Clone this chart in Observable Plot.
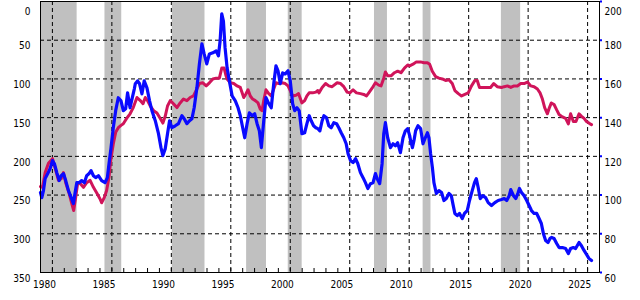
<!DOCTYPE html>
<html><head><meta charset="utf-8">
<script src="https://cdn.jsdelivr.net/npm/d3@7"></script>
<script src="https://cdn.jsdelivr.net/npm/@observablehq/plot@0.6"></script>
<style>
html,body{margin:0;padding:0;background:#fff;}
#chart svg{display:block;}
</style>
</head><body><div id="chart"></div>
<script>
// Shaded recession periods (decimal years)
const recessionStart = [1980.08, 1985.42, 1991.08, 1997.33, 2000.83, 2008.08, 2012.17, 2018.75];
const recessionEnd   = [1983.08, 1986.83, 1993.83, 1999.00, 2002.00, 2009.17, 2012.83, 2020.37];

// Red series: left axis (inverted, 0..350)
const redYears = [
  1980.0,1980.17,1980.39,1980.67,1981.01,1981.23,1981.51,1981.74,1981.93,1982.12,1982.41,1982.63,1982.79,1982.96,1983.13,1983.33,1983.61,1983.88,1984.17,1984.45,1984.72,1985.01,1985.14,1985.37,1985.56,1985.76,1985.93,1986.12,1986.32,1986.54,1986.77,1986.96,1987.24,1987.53,1987.80,
  1988.11,1988.39,1988.62,1988.81,1989.00,1989.23,1989.51,1989.79,1990.07,1990.29,1990.49,1990.68,1990.91,1991.18,1991.47,1991.74,1992.02,1992.31,1992.58,1992.86,1993.15,1993.36,1993.65,1993.93,1994.20,1994.49,1994.77,1995.04,1995.24,1995.44,1995.60,
  1995.69,1995.96,1996.25,1996.53,1996.80,1997.09,1997.28,1997.45,1997.64,1997.84,1998.06,1998.29,1998.48,1998.62,1998.77,1998.96,1999.19,1999.40,1999.61,1999.80,2000.03,2000.30,2000.58,2000.81,2001.00,2001.20,2001.48,2001.70,2001.98,2002.21,2002.40,2002.59,2002.88,2003.15,2003.32,
  2003.41,2003.68,2003.97,2004.24,2004.52,2004.94,2005.23,2005.50,2005.78,2006.01,2006.28,2006.57,2006.90,2007.18,2007.41,2007.60,2007.88,2008.16,2008.44,2008.63,2008.86,2009.00,2009.19,2009.47,2009.76,2010.03,2010.31,2010.60,2010.87,2011.04,
  2011.32,2011.60,2011.96,2012.24,2012.53,2012.72,2012.94,2013.22,2013.50,2013.78,2014.06,2014.34,2014.62,2014.84,2015.13,2015.40,2015.68,2015.96,2016.24,2016.52,2016.72,2016.91,2017.19,2017.56,2017.84,2018.11,2018.40,2018.76,
  2018.99,2019.26,2019.54,2019.82,2020.10,2020.38,2020.66,2020.94,2021.22,2021.50,2021.78,2022.00,2022.20,2022.39,2022.62,2022.79,2022.95,2023.18,2023.40,2023.60,2023.88,2024.15,2024.38,2024.57,2024.80,2025.02,2025.28,2025.47,2025.70,2025.91,2026.20,2026.33
];
const redValues = [
  239,240,221,209,203,215,231,229,221,234,248,261,270,253,234,235,240,234,231,240,247,255,260,253,244,227,202,184,169,163,160,158,151,145,137,
  124,128,132,124,128,135,141,144,151,157,148,135,128,132,137,131,126,128,124,122,113,106,105,109,105,100,99,99,86,86,96,
  100,105,106,109,111,124,119,114,122,126,128,131,139,141,128,114,119,122,113,105,106,105,106,109,115,122,121,119,131,128,122,118,118,117,115,
  118,111,106,109,110,105,106,110,117,118,114,118,119,120,122,118,112,105,108,109,99,91,96,96,92,90,92,86,82,83,
  81,78,78,79,79,81,90,97,99,100,102,101,106,115,119,122,120,118,109,102,102,111,111,111,111,106,110,111,
  110,109,111,109,109,106,106,104,109,110,113,118,126,137,145,137,131,133,140,146,149,151,158,145,155,155,145,148,151,155,158,159
];

// Blue series: right axis (60..200)
const blueYears = [
  1980.0,1980.11,1980.25,1980.39,1980.61,1980.81,1981.01,1981.17,1981.37,1981.57,1981.74,1981.93,1982.12,1982.35,1982.58,1982.77,1982.91,1983.05,1983.25,1983.46,1983.69,1983.88,1984.09,1984.25,1984.45,1984.64,1984.87,1985.14,1985.43,1985.62,1985.76,1985.93,1986.12,1986.32,1986.54,1986.77,1986.96,1987.16,1987.32,1987.53,1987.72,1987.89,
  1987.97,1988.16,1988.33,1988.53,1988.72,1988.95,1989.17,1989.37,1989.65,1989.92,1990.13,1990.29,1990.49,1990.68,1990.85,1991.05,1991.33,1991.60,1991.89,1992.08,1992.31,1992.53,1992.73,1992.92,1993.15,1993.36,1993.57,1993.76,1993.98,1994.20,1994.49,1994.77,1994.96,1995.10,1995.24,1995.38,1995.52,
  1995.69,1995.88,1996.11,1996.38,1996.61,1996.80,1997.00,1997.17,1997.37,1997.56,1997.79,1998.01,1998.21,1998.40,1998.57,1998.77,1998.96,1999.19,1999.40,1999.61,1999.80,1999.97,2000.16,2000.36,2000.58,2000.81,2001.00,2001.20,2001.37,2001.56,2001.75,2001.98,2002.21,2002.40,2002.59,2002.76,2002.96,2003.15,2003.32,
  2003.49,2003.68,2003.83,2004.05,2004.24,2004.44,2004.66,2004.89,2005.08,2005.28,2005.50,2005.70,2005.86,2006.07,2006.28,2006.49,2006.68,2006.90,2007.12,2007.32,2007.52,2007.74,2007.96,2008.16,2008.30,2008.52,2008.72,2008.86,2009.00,2009.19,2009.42,2009.64,2009.84,2010.03,2010.26,2010.48,2010.68,2010.87,2011.04,
  2011.12,2011.27,2011.40,2011.54,2011.74,2011.96,2012.16,2012.32,2012.53,2012.66,2012.80,2012.95,2013.08,2013.28,2013.50,2013.72,2013.92,2014.12,2014.34,2014.54,2014.67,2014.84,2015.04,2015.23,2015.46,2015.65,2015.88,2016.07,2016.30,2016.49,2016.64,2016.80,2016.97,2017.19,2017.42,2017.64,2017.92,2018.20,2018.48,2018.76,
  2018.99,2019.20,2019.41,2019.54,2019.77,2019.96,2020.16,2020.27,2020.44,2020.66,2020.88,2021.08,2021.28,2021.50,2021.72,2021.92,2022.11,2022.28,2022.47,2022.67,2022.84,2022.98,2023.18,2023.40,2023.60,2023.88,2024.15,2024.38,2024.57,2024.80,2024.99,2025.28,2025.47,2025.70,2025.91,2026.11,2026.33
];
const blueValues = [
  101.3,98.7,102.3,108.5,111.1,113.7,117.8,116.2,111.6,107.5,110,111.1,107.5,102.3,98.7,95.6,101.3,106.4,106.4,107.5,106.4,110,111.1,112.6,110,109,110,107.5,106.4,109,116.2,124.5,134.8,143.6,150.3,148.7,143.6,144.6,152.8,145.1,150.3,154.9,
  157.5,159,157.5,152.3,159,155.4,148.7,143.6,138.4,131.7,124.5,120.4,124,131.7,138.4,134.8,135.8,136.9,141,139.4,136.9,138.4,139.4,145.1,155.4,167.8,178.1,172.9,167.8,172.9,173.5,174.5,171.9,179.6,193.6,189.9,176,
  165.7,159,151.3,148.7,145.1,141,134.8,129.6,136.9,142.5,141,142,136.9,133.2,124.5,138.4,150.3,147.2,145.1,157.5,166.8,164.2,157.5,163.1,162.6,164.2,159,147.2,143.6,145.1,143.6,131.7,132.2,136.9,141,138.4,135.8,134.8,134.3,
  133.2,138.4,141,139.9,135.8,134.8,137.4,136.9,134.8,132.2,129.6,126.5,121.4,117.8,116.8,118.8,116.2,111.6,109,106.4,103.4,105.9,106.4,111.1,108.5,105.9,116.2,131.7,137.4,129.6,124.5,126.5,125.5,127,121.9,129.6,133.2,134.3,130.7,
  128.1,124.5,128.1,133.2,135.8,134.3,126.5,129.1,132.2,129.6,121.4,114.2,106.4,100.8,102.3,101.3,97.2,98.2,100.8,99.7,95.6,90.5,89.4,90.5,87.9,90.5,92,97.2,102.3,106.4,108.5,103.9,98.2,99.7,98.7,96.1,94.6,96.1,97.2,97.7,
  98.2,97.2,99.7,102.8,99.7,98.2,101.3,103.4,101.3,99.7,97.2,94.6,92,90.5,90.5,87.9,85.3,80.2,76.5,75.5,77.6,78.1,77.6,75,72.9,72.9,72.4,69.8,72.4,72.9,72.4,75.5,74,71.4,69.3,67.3,66.2
];

// Axis ticks
const leftTicks  = [0, 50, 100, 150, 200, 250, 300, 350];
const rightTicks = [60, 80, 100, 120, 140, 160, 180, 200];
const yearLabels = [1980, 1985, 1990, 1995, 2000, 2005, 2010, 2015, 2020, 2025];
const gridYears  = [1981, 1986, 1991, 1996, 2001, 2006, 2011, 2016, 2021, 2026];
const minorYears = d3.range(1980, 2027);

// Left axis (inverted 0..350) expressed on the right-axis scale (60..200)
const leftToRight = v => 200 - v * 0.4;
const rightToLeft = v => Math.round((200 - v) / 0.4);

const bands = recessionStart.map((s, i) => ({s, e: recessionEnd[i]}));
const red = redYears.map((t, i) => ({t, v: redValues[i]}));
const blue = blueYears.map((t, i) => ({t, v: blueValues[i]}));

const font = "'Liberation Sans Narrow','DejaVu Sans Condensed','Liberation Sans',Arial,sans-serif";

const chart = Plot.plot({
  width: 640,
  height: 300,
  marginLeft: 40,
  marginRight: 41,
  marginTop: 1,
  marginBottom: 28,
  style: {fontFamily: font, fontSize: "10px", color: "black", background: "white"},
  x: {domain: [1980, 2027], axis: null},
  y: {domain: [60, 200], axis: null},
  marks: [
    Plot.rect(bands, {x1: "s", x2: "e", fill: "#c0c0c0"}),
    Plot.gridY(rightTicks.filter(v => v > 60 && v < 200), {stroke: "black", strokeOpacity: 1, strokeDasharray: "4,3", strokeWidth: 1}),
    Plot.gridX(gridYears, {stroke: "black", strokeOpacity: 1, strokeDasharray: "4,3", strokeWidth: 1}),
    Plot.line(red, {x: "t", y: d => leftToRight(d.v), stroke: "#d0145a", strokeWidth: 3, strokeLinejoin: "round"}),
    Plot.line(blue, {x: "t", y: "v", stroke: "#0a0aff", strokeWidth: 3.2, strokeLinejoin: "round"}),
    Plot.frame({stroke: "black", strokeWidth: 1}),
    // yearly tick marks inside the bottom frame
    Plot.axisX(minorYears, {anchor: "bottom", label: null, tickSize: 4, dy: -4, tickFormat: () => "", stroke: "black"}),
    // year labels
    Plot.axisX(yearLabels, {anchor: "bottom", label: null, tickSize: 0, tickPadding: 8, dx: 4, tickFormat: d => String(d)}),
    // left axis labels (0 at top, 350 at bottom)
    Plot.axisY(leftTicks.slice(1).map(leftToRight), {anchor: "left", label: null, tickSize: 0, tickPadding: 10, dy: 6, tickFormat: rightToLeft}),
    Plot.axisY([leftToRight(leftTicks[0])], {anchor: "left", label: null, tickSize: 0, tickPadding: 10, dy: 10, tickFormat: rightToLeft}),
    // right axis labels
    Plot.axisY(rightTicks.filter(v => v < 200), {anchor: "right", label: null, tickSize: 0, tickPadding: 5, dy: 6, tickFormat: d => String(d)}),
    Plot.axisY([200], {anchor: "right", label: null, tickSize: 0, tickPadding: 5, dy: 10, tickFormat: d => String(d)}),
    // blue tick marks on the right edge
    Plot.axisY(rightTicks, {anchor: "right", label: null, tickSize: 2, stroke: "#0000ff", strokeWidth: 2, tickFormat: () => ""})
  ]
});
document.getElementById("chart").appendChild(chart);
</script>
</body></html>
